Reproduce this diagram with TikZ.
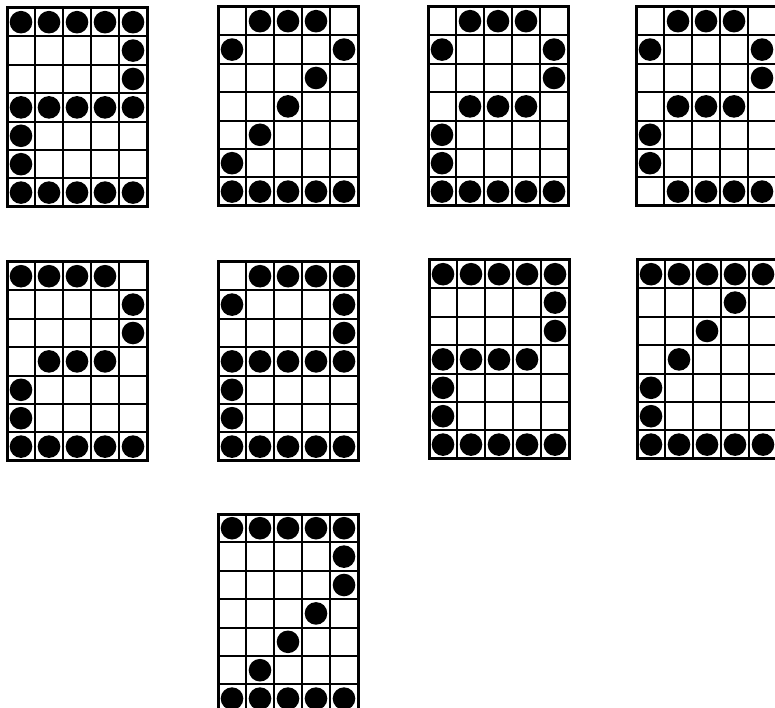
\documentclass[tikz,border=0pt]{standalone}
\usetikzlibrary{calc}

\tikzset{
  gridframe/.style={line width=3pt},
  gridline/.style={line width=1.9pt},
  gridpeg/.style={fill=black},
}

% one 5x7 peg board: top-left corner (#1,#2), rows of pegs #3
\newcommand{\pegboard}[3]{%
  \begin{scope}[shift={(#1,#2)}]
    \foreach \row [count=\r] in {#3} {
      \foreach \v [count=\c] in \row {
        \ifnum\v=1 \fill[gridpeg] ({(\c-0.5)*28},{(\r-0.5)*28.4}) circle (11.3pt);\fi
      }
    }
    \foreach \c in {1,...,4} \draw[gridline] (\c*28,0) -- (\c*28,198.8);
    \foreach \r in {1,...,6} \draw[gridline] (0,\r*28.4) -- (140,\r*28.4);
    \draw[gridframe] (0,0) rectangle (140,198.8);
  \end{scope}}

\begin{document}
\begin{tikzpicture}[x=1pt,y=-1pt]
\useasboundingbox (0,0) rectangle (775,708);
\fill[white] (0,0) rectangle (775,708);

% first row
\pegboard{7}{8}{{1,1,1,1,1},{0,0,0,0,1},{0,0,0,0,1},{1,1,1,1,1},{1,0,0,0,0},{1,0,0,0,0},{1,1,1,1,1}}
\pegboard{218}{7}{{0,1,1,1,0},{1,0,0,0,1},{0,0,0,1,0},{0,0,1,0,0},{0,1,0,0,0},{1,0,0,0,0},{1,1,1,1,1}}
\pegboard{428}{7}{{0,1,1,1,0},{1,0,0,0,1},{0,0,0,0,1},{0,1,1,1,0},{1,0,0,0,0},{1,0,0,0,0},{1,1,1,1,1}}
\pegboard{636}{7}{{0,1,1,1,0},{1,0,0,0,1},{0,0,0,0,1},{0,1,1,1,0},{1,0,0,0,0},{1,0,0,0,0},{0,1,1,1,1}}

% second row
\pegboard{7}{262}{{1,1,1,1,0},{0,0,0,0,1},{0,0,0,0,1},{0,1,1,1,0},{1,0,0,0,0},{1,0,0,0,0},{1,1,1,1,1}}
\pegboard{218}{262}{{0,1,1,1,1},{1,0,0,0,1},{0,0,0,0,1},{1,1,1,1,1},{1,0,0,0,0},{1,0,0,0,0},{1,1,1,1,1}}
\pegboard{429}{260}{{1,1,1,1,1},{0,0,0,0,1},{0,0,0,0,1},{1,1,1,1,0},{1,0,0,0,0},{1,0,0,0,0},{1,1,1,1,1}}
\pegboard{637}{260}{{1,1,1,1,1},{0,0,0,1,0},{0,0,1,0,0},{0,1,0,0,0},{1,0,0,0,0},{1,0,0,0,0},{1,1,1,1,1}}

% third row
\pegboard{218}{514}{{1,1,1,1,1},{0,0,0,0,1},{0,0,0,0,1},{0,0,0,1,0},{0,0,1,0,0},{0,1,0,0,0},{1,1,1,1,1}}
\end{tikzpicture}
\end{document}
